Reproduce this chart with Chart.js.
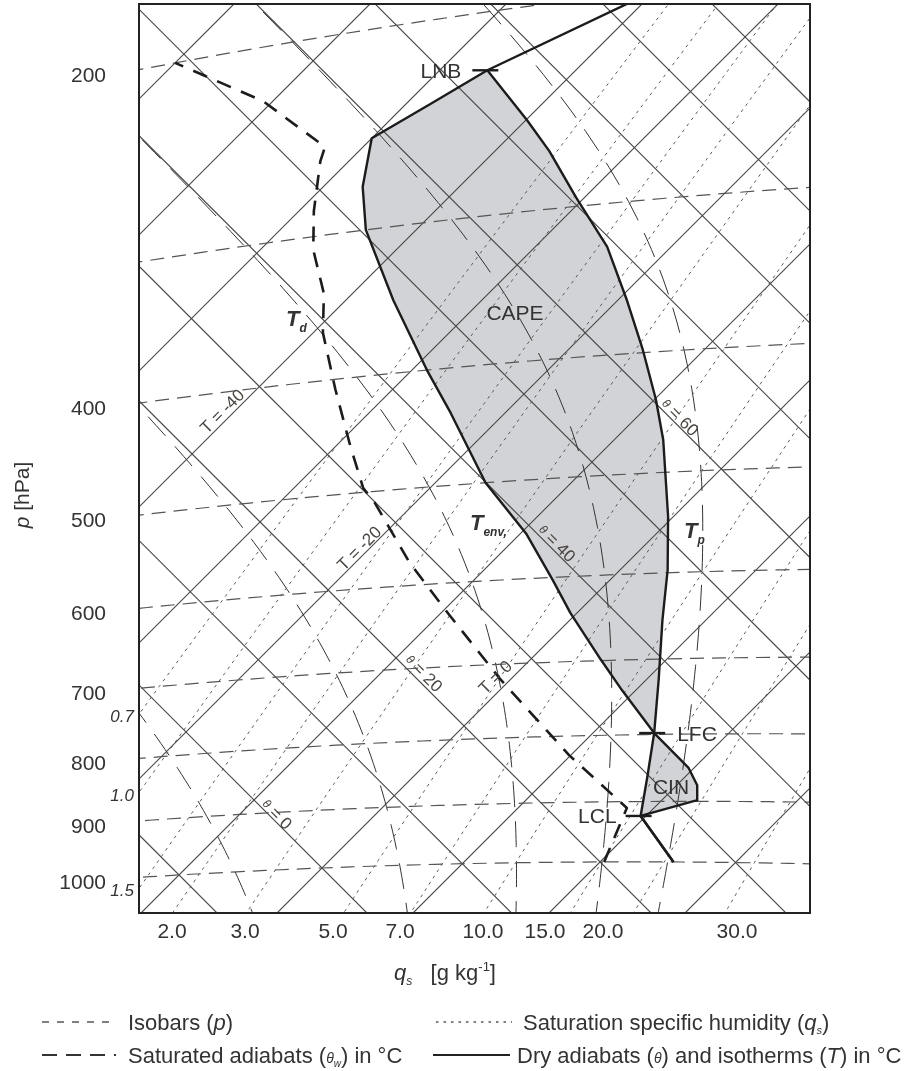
<!DOCTYPE html>
<html>
<head>
<meta charset="utf-8">
<title>Tephigram – CAPE and CIN</title>
<script src="https://cdn.jsdelivr.net/npm/chart.js@4.4.1/dist/chart.umd.min.js"></script>
<style>
  html, body { margin: 0; padding: 0; background: #ffffff; }
  #wrap { position: relative; width: 911px; height: 1071px; }
</style>
</head>
<body>
<div id="wrap"><canvas id="teph" width="911" height="1071"></canvas></div>
<script>
// ---------------- reference line values ----------------
const isothermValues   = [-90, -80, -70, -60, -50, -40, -30, -20, -10, 0, 10, 20, 30, 40, 50]; // °C
const dryAdiabatValues = [-30, -20, -10, 0, 10, 20, 30, 40, 50, 60, 70, 80, 90, 100, 110, 120]; // θ in °C
const isobarValues     = [200, 300, 400, 500, 600, 700, 800, 900, 1000];                       // hPa
const pressureLabels   = ['200', '', '400', '500', '600', '700', '800', '900', '1000'];
const qsValues         = [0.7, 1.0, 1.5, 2, 3, 5, 7, 10, 15, 20, 30];                          // g/kg
const qsBottomLabels   = ['2.0', '3.0', '5.0', '7.0', '10.0', '15.0', '20.0', '30.0'];
const qsLeftValues     = [0.7, 1.0, 1.5];
const qsLeftLabels     = ['0.7', '1.0', '1.5'];
const satAdiabatValues = [0, 20, 40, 60, 80];   // equivalent potential temperature, °C

// ---------------- sounding ----------------
const envP = [1000, 923, 898, 875, 849, 798, 739, 699, 641, 603, 552, 500, 436, 400, 347, 300, 275, 250, 237, 225, 203];
const envT = [25.4, 19.6, 22.6, 21.5, 19.6, 14.5, 9.0, 5.2, -0.5, -4.2, -9.6, -16.3, -24.0, -28.9, -36.5, -43.7, -47.1, -50.0, -48.2, -46.5, -40.8];

const parcelP = [1000, 923, 859, 798, 726, 653, 597, 542, 471, 437, 398, 362, 326, 295, 268, 251, 225];
const parcelT = [25.4, 19.6, 17.1, 14.5, 10.9, 6.8, 3.5, -0.4, -6.4, -9.9, -14.5, -19.3, -24.7, -30.6, -36.0, -39.9, -46.5];

const dewP = [1000, 910, 828, 720, 637, 575, 509, 496, 456, 408, 364, 337, 308, 285, 258, 251, 224, 200];
const dewT = [20.3, 18.0, 9.9, -0.7, -9.2, -16.0, -23.2, -24.9, -29.0, -34.2, -39.3, -42.1, -46.1, -48.9, -52.1, -52.8, -60.7, -70.0];

const levelNames = ['LCL', 'LFC', 'LNB'];
const levelP = [923, 798, 225];
const levelT = [19.6, 14.5, -46.5];

// ---------------- diagram geometry (tephigram) ----------------
const T0 = 273.15, KAPPA = 0.2857;
const LN_THETA_SCALE = 295.6;            // ln θ units per °C of the temperature axis
const X_RANGE = [-26.91, 71.76];
const Y_RANGE = [-6.62, 127.06];

// temperature (°C) and potential temperature (K) -> rotated diagram coordinates
function proj(tC, thetaK) {
  const v = LN_THETA_SCALE * Math.log(thetaK / T0);
  return { x: tC + v, y: v - tC };
}
function projTP(tC, p) {
  return proj(tC, (tC + T0) * Math.pow(1000 / p, KAPPA));
}
function satVap(tC) { return 6.112 * Math.exp(17.67 * tC / (tC + 243.5)); }
function mixRatio(tC, p) { const e = satVap(tC); return 0.622 * e / Math.max(p - e, 1e-3); }
function thetaE(tC, p) {
  const tk = tC + T0;
  return tk * Math.pow(1000 / p, KAPPA) * Math.exp(2.5e6 * mixRatio(tC, p) / (1005 * tk));
}
function tempOnSatAdiabat(thE, p) {
  let lo = -130, hi = 50;
  for (let i = 0; i < 60; i++) {
    const m = (lo + hi) / 2;
    if (thetaE(m, p) > thE) hi = m; else lo = m;
  }
  return (lo + hi) / 2;
}
function dewFromMix(r, p) {
  const e = r * p / (0.622 + r);
  const l = Math.log(e / 6.112);
  return 243.5 * l / (17.67 - l);
}

function isothermPts(t) { return [-80, 200].map(v => ({ x: t + v, y: v - t })); }
function adiabatPts(thC) {
  const v = LN_THETA_SCALE * Math.log((thC + T0) / T0);
  return [-140, 80].map(t => ({ x: t + v, y: v - t }));
}
function isobarPts(p) {
  const pts = [];
  for (let t = -130; t <= 60; t += 2) pts.push(projTP(t, p));
  return pts;
}
function qsPts(q) {
  const pts = [];
  for (let p = 1120; p >= 100; p -= 10) pts.push(projTP(dewFromMix(q / 1000, p), p));
  return pts;
}
function satAdiabatPts(thEC) {
  const pts = [];
  for (let p = 1120; p >= 140; p -= 10) pts.push(projTP(tempOnSatAdiabat(thEC + T0, p), p));
  return pts;
}
function soundingPts(P, T) { return P.map((p, i) => projTP(T[i], p)); }

// ---------------- datasets ----------------
const datasets = [];
function addLine(points, style) {
  datasets.push(Object.assign({
    data: points, pointRadius: 0, pointHoverRadius: 0, tension: 0, fill: false,
    borderJoinStyle: 'round'
  }, style));
}
const GRID = { borderColor: '#474747', borderWidth: 1.15, order: 5 };
isothermValues.forEach(t => addLine(isothermPts(t), GRID));
dryAdiabatValues.forEach(th => addLine(adiabatPts(th), GRID));
isobarValues.forEach(p => addLine(isobarPts(p), { borderColor: '#555555', borderWidth: 1.2, borderDash: [14, 8], order: 4 }));
qsValues.forEach(q => addLine(qsPts(q), { borderColor: '#5a5a5a', borderWidth: 1, borderDash: [3, 4.5], order: 4 }));
satAdiabatValues.forEach(th => addLine(satAdiabatPts(th), { borderColor: '#333333', borderWidth: 1, borderDash: [26, 14], order: 4 }));

addLine(soundingPts(dewP, dewT), { borderColor: '#1c1c1c', borderWidth: 2.6, borderDash: [15, 11], order: 1 });
addLine(soundingPts(envP, envT), { borderColor: '#1c1c1c', borderWidth: 2.4, order: 0 });
addLine(soundingPts(parcelP, parcelT), { borderColor: '#1c1c1c', borderWidth: 2.4, order: 0 });

// ---------------- text helpers ----------------
const FONT = '"Liberation Sans", Arial, Helvetica, sans-serif';
const f = (size, style) => (style ? style + ' ' : '') + size + 'px ' + FONT;
function runsWidth(ctx, runs) {
  let w = 0;
  for (const r of runs) { ctx.font = r.f; w += ctx.measureText(r.t).width; }
  return w;
}
function drawRuns(ctx, runs, x, y, align) {
  const w = runsWidth(ctx, runs);
  let cx = align === 'center' ? x - w / 2 : align === 'right' ? x - w : x;
  ctx.textAlign = 'left';
  ctx.textBaseline = 'alphabetic';
  for (const r of runs) {
    ctx.font = r.f;
    ctx.fillText(r.t, cx, y + (r.dy || 0));
    cx += ctx.measureText(r.t).width;
  }
}
function drawRotated(ctx, runs, cx, cy, angle) {
  ctx.save();
  ctx.translate(cx, cy);
  ctx.rotate(angle);
  drawRuns(ctx, runs, 0, 6, 'center');
  ctx.restore();
}

// ---------------- annotation layout ----------------
const bottomLabelX = [172, 245, 333, 400, 483, 545, 603, 737];
const lineLabels = [
  { runs: [{ t: 'T = -40', f: f(17) }], x: 222, y: 411, a: -Math.PI / 4 },
  { runs: [{ t: 'T = -20', f: f(17) }], x: 359, y: 548, a: -Math.PI / 4 },
  { runs: [{ t: 'T = 0', f: f(17) }], x: 495, y: 677, a: -Math.PI / 4 },
  { runs: [{ t: 'θ', f: f(12, 'italic'), dy: -2 }, { t: ' = 0', f: f(17) }], x: 277, y: 814, a: Math.PI / 4 },
  { runs: [{ t: 'θ', f: f(12, 'italic'), dy: -2 }, { t: ' = 20', f: f(17) }], x: 424, y: 673, a: Math.PI / 4 },
  { runs: [{ t: 'θ', f: f(12, 'italic'), dy: -2 }, { t: ' = 40', f: f(17) }], x: 557, y: 543, a: Math.PI / 4 },
  { runs: [{ t: 'θ', f: f(12, 'italic'), dy: -2 }, { t: ' = 60', f: f(17) }], x: 680, y: 417, a: Math.PI / 4 }
];
const plainNotes = [
  { runs: [{ t: 'CAPE', f: f(21) }], x: 515, y: 320, align: 'center' },
  { runs: [{ t: 'CIN', f: f(21) }], x: 671, y: 794, align: 'center' },
  { runs: [{ t: 'T', f: f(22, 'bold italic') }, { t: 'd', f: f(12, 'bold italic'), dy: 6 }], x: 286, y: 326, align: 'left' },
  { runs: [{ t: 'T', f: f(22, 'bold italic') }, { t: 'env,', f: f(12, 'bold italic'), dy: 6 }], x: 470, y: 530, align: 'left' },
  { runs: [{ t: 'T', f: f(22, 'bold italic') }, { t: 'p', f: f(12, 'bold italic'), dy: 6 }], x: 684, y: 538, align: 'left' }
];

function polygonFromLevels(pLow, pHigh) {
  const up = parcelP.map((p, i) => [p, parcelT[i]]).filter(([p]) => p <= pLow && p >= pHigh);
  const down = envP.map((p, i) => [p, envT[i]]).filter(([p]) => p <= pLow && p >= pHigh).reverse();
  return up.concat(down).map(([p, t]) => projTP(t, p));
}
function leftEdgeCrossing(pts) {
  for (let k = 1; k < pts.length; k++) {
    const a = pts[k - 1], b = pts[k];
    if ((a.x - X_RANGE[0]) * (b.x - X_RANGE[0]) <= 0 && a.x !== b.x) {
      const s = (X_RANGE[0] - a.x) / (b.x - a.x);
      return a.y + s * (b.y - a.y);
    }
  }
  return null;
}

const diagramPlugin = {
  id: 'diagram',
  beforeDatasetsDraw(chart) {
    const { ctx, scales: { x, y } } = chart;
    ctx.save();
    ctx.fillStyle = '#d2d3d6';
    const polys = [polygonFromLevels(levelP[1], levelP[2]), polygonFromLevels(levelP[0], levelP[1])];
    for (const poly of polys) {
      ctx.beginPath();
      poly.forEach((pt, i) => {
        const px = x.getPixelForValue(pt.x), py = y.getPixelForValue(pt.y);
        if (i === 0) ctx.moveTo(px, py); else ctx.lineTo(px, py);
      });
      ctx.closePath();
      ctx.fill();
    }
    ctx.restore();
  },
  afterDatasetsDraw(chart) {
    const { ctx, chartArea: ca, scales: { x, y } } = chart;
    ctx.save();
    // level markers
    ctx.strokeStyle = '#1c1c1c';
    ctx.lineWidth = 2.4;
    const textOffsets = [[-24, 'right'], [23, 'left'], [-26, 'right']];
    levelP.forEach((p, i) => {
      const pt = projTP(levelT[i], p);
      const px = x.getPixelForValue(pt.x), py = y.getPixelForValue(pt.y);
      ctx.beginPath();
      ctx.moveTo(px - 15, py); ctx.lineTo(px + 11, py);
      ctx.stroke();
      ctx.fillStyle = '#333';
      drawRuns(ctx, [{ t: levelNames[i], f: f(21) }], px + textOffsets[i][0], py + 7.5, textOffsets[i][1]);
    });

    // frame
    ctx.strokeStyle = '#222';
    ctx.lineWidth = 2;
    ctx.strokeRect(ca.left, ca.top, ca.right - ca.left, ca.bottom - ca.top);

    // in-plot notes
    ctx.fillStyle = '#333';
    plainNotes.forEach(n => drawRuns(ctx, n.runs, n.x, n.y, n.align));
    ctx.fillStyle = '#4a4540';
    lineLabels.forEach(n => drawRotated(ctx, n.runs, n.x, n.y, n.a));

    // pressure labels at the left end of each isobar
    ctx.fillStyle = '#333';
    isobarValues.forEach((p, i) => {
      if (!pressureLabels[i]) return;
      const yy = leftEdgeCrossing(isobarPts(p));
      if (yy === null) return;
      drawRuns(ctx, [{ t: pressureLabels[i], f: f(21) }], 106, y.getPixelForValue(yy) + 12, 'right');
    });

    // q_s labels where the lines leave the left edge
    qsLeftValues.forEach((q, i) => {
      const yy = leftEdgeCrossing(qsPts(q));
      if (yy === null) return;
      drawRuns(ctx, [{ t: qsLeftLabels[i], f: f(17, 'italic') }], 134, y.getPixelForValue(yy) + 8, 'right');
    });

    // q_s labels along the bottom
    qsBottomLabels.forEach((lab, i) => drawRuns(ctx, [{ t: lab, f: f(21) }], bottomLabelX[i], 938, 'center'));

    // axis titles
    drawRuns(ctx, [
      { t: 'q', f: f(22, 'italic') }, { t: 's', f: f(12, 'italic'), dy: 5 },
      { t: '   [g kg', f: f(22) }, { t: '-1', f: f(13), dy: -9 }, { t: ']', f: f(22) }
    ], 445, 980, 'center');
    ctx.save();
    ctx.translate(29, 495);
    ctx.rotate(-Math.PI / 2);
    drawRuns(ctx, [{ t: 'p', f: f(21, 'italic') }, { t: ' [hPa]', f: f(21) }], 0, 0, 'center');
    ctx.restore();

    // legend
    const rowY = [1022, 1055];
    const sample = (x0, x1, yy, dash, w, col) => {
      ctx.save();
      ctx.strokeStyle = col; ctx.lineWidth = w; ctx.setLineDash(dash);
      ctx.beginPath(); ctx.moveTo(x0, yy); ctx.lineTo(x1, yy); ctx.stroke();
      ctx.restore();
    };
    sample(42, 112, rowY[0], [7, 8], 1.6, '#555');
    sample(436, 512, rowY[0], [2.5, 5], 1.6, '#555');
    sample(42, 116, rowY[1], [15, 9], 2.2, '#333');
    sample(433, 510, rowY[1], [], 2, '#222');
    ctx.fillStyle = '#333';
    const LF = 22;
    drawRuns(ctx, [{ t: 'Isobars (', f: f(LF) }, { t: 'p', f: f(LF, 'italic') }, { t: ')', f: f(LF) }], 128, rowY[0] + 8, 'left');
    drawRuns(ctx, [{ t: 'Saturation specific humidity (', f: f(LF) }, { t: 'q', f: f(LF, 'italic') },
                   { t: 's', f: f(11, 'italic'), dy: 4 }, { t: ')', f: f(LF) }], 523, rowY[0] + 8, 'left');
    drawRuns(ctx, [{ t: 'Saturated adiabats (', f: f(LF) }, { t: 'θ', f: f(14, 'italic') },
                   { t: 'w', f: f(10, 'italic'), dy: 4 }, { t: ') in °C', f: f(LF) }], 128, rowY[1] + 8, 'left');
    drawRuns(ctx, [{ t: 'Dry adiabats (', f: f(LF) }, { t: 'θ', f: f(14, 'italic') }, { t: ') and isotherms (', f: f(LF) },
                   { t: 'T', f: f(LF, 'italic') }, { t: ') in °C', f: f(LF) }], 517, rowY[1] + 8, 'left');
    ctx.restore();
  }
};

new Chart(document.getElementById('teph'), {
  type: 'line',
  data: { datasets },
  options: {
    responsive: false,
    animation: false,
    devicePixelRatio: 1,
    events: [],
    layout: { padding: { left: 139, top: 4, right: 101, bottom: 158 } },
    scales: {
      x: { type: 'linear', min: X_RANGE[0], max: X_RANGE[1], display: false },
      y: { type: 'linear', min: Y_RANGE[0], max: Y_RANGE[1], display: false }
    },
    plugins: { legend: { display: false }, tooltip: { enabled: false }, title: { display: false } }
  },
  plugins: [diagramPlugin]
});
</script>
</body>
</html>
